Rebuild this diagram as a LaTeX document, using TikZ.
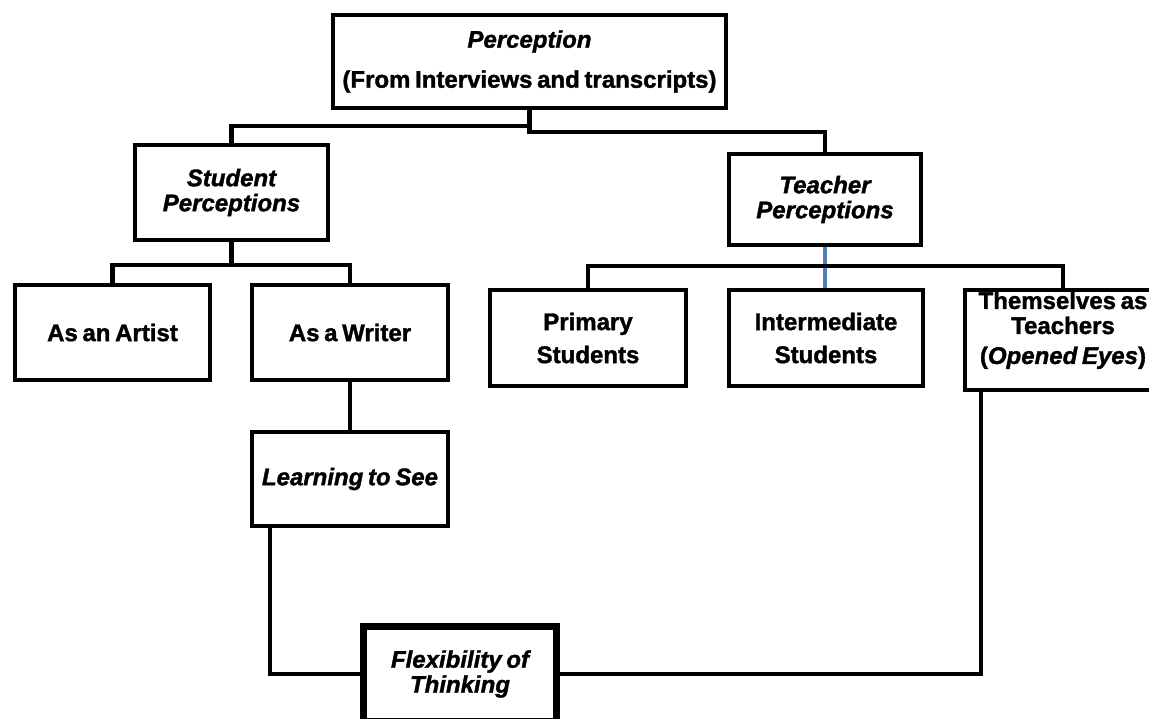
\documentclass[tikz,border=0pt]{standalone}
\usepackage{fontspec}
\setmainfont{Liberation Sans}[WordSpace=0.7,
    BoldFeatures={FakeBold=1.5}, BoldItalicFeatures={FakeBold=1.5}]
\definecolor{linkblue}{RGB}{79,129,189}

\begin{document}
\begin{tikzpicture}[x=1pt, y=-1pt,
    box/.style={draw, line width=4pt, align=center, inner sep=2pt,
        font=\fontsize{24}{25}\selectfont\bfseries},
    link/.style={line width=4.5pt},
]
    \useasboundingbox (0,0) rectangle (1149,719);
    \clip (0,0) rectangle (1149,719);

    %% Perception tree

    % Top
    \node[box, minimum width=393pt, minimum height=93pt] (percep) at (529.5,61.5)
        {\textit{Perception}\\[15pt](From Interviews and transcripts)};

    % Students
    \node[box, minimum width=193pt, minimum height=95pt] (student) at (231.5,192.5)
        {\itshape Student\\\itshape Perceptions};
    \node[box, minimum width=195pt, minimum height=95pt] (artist) at (112.5,332.5) {As an Artist};
    \node[box, minimum width=196pt, minimum height=95pt] (writer) at (350,332.5) {As a Writer};
    \node[box, minimum width=196pt, minimum height=94pt] (learn) at (350,479) {\textit{Learning to See}};

    % Teachers
    \node[box, minimum width=192pt, minimum height=91pt] (teacher) at (825,199.5)
        {\itshape Teacher\\\itshape Perceptions};
    \node[box, minimum width=196pt, minimum height=96pt] (primary) at (588,338) {Primary\\[8pt]Students};
    \node[box, minimum width=194pt, minimum height=96pt] (inter) at (826,338) {Intermediate\\[8pt]Students};
    \node[box, minimum width=196pt, minimum height=92pt] (selves) at (1063,340)
        {Themselves as\\Teachers\\[5pt](\textit{Opened Eyes})\\[-8pt]\strut};

    % Bottom
    \node[box, line width=7pt, minimum width=193pt, minimum height=95pt] (flex) at (460,674)
        {\itshape Flexibility of\\\itshape Thinking};

    % Links
    \draw[link] (percep.south) -- ++(0,16) -| (student.north);
    \draw[link] (percep.south) -- ++(0,22) -| (teacher.north);
    \draw[link] (student.south) -- ++(0,23) -| (artist.north);
    \draw[link] (student.south) -- ++(0,23) -| (writer.north);
    \draw[link, linkblue] (teacher.south) -- (teacher.south |- inter.north);
    \draw[link] (primary.north) -- ++(0,-22) -| (selves.north);
    \draw[link] (writer.south) -- (learn.north);
    \draw[link] ([xshift=20pt]learn.south west) |- (flex.west);
    \draw[link] ([xshift=18pt]selves.south west) |- (flex.east);

\end{tikzpicture}
\end{document}
